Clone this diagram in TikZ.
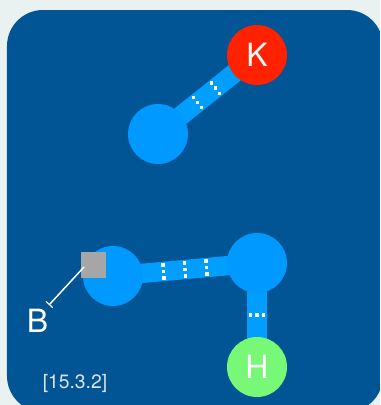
\documentclass[tikz,border=0pt]{standalone}
\usepackage{fontspec}
\setmainfont{TeX Gyre Heros}
\usetikzlibrary{calc,arrows.meta,backgrounds}
\definecolor{pagegray}{HTML}{E9F1F1}
\definecolor{panelblue}{HTML}{025594}
\definecolor{atomblue}{HTML}{0099FF}
\definecolor{bondblue}{HTML}{009EFF}
\definecolor{kred}{HTML}{FF2200}
\definecolor{hgreen}{HTML}{77F977}
\definecolor{tagray}{HTML}{A6A6A6}
\definecolor{labgray}{HTML}{DCE4E8}

\begin{document}
\begin{tikzpicture}[x=0.75pt,y=-0.75pt,
atom/.style={circle, fill=atomblue, inner sep=0pt, minimum size=45pt},
elem/.style={atom, text=white, font=\fontsize{24}{24}\selectfont},
bond/.style={draw=bondblue, line width=14.5pt},
tag/.style={rectangle, fill=tagray, inner sep=0pt, minimum width=18.75pt, minimum height=19.5pt},
hb/.style={fill=white}
]
\useasboundingbox (0,0) rectangle (380,405);

% atoms
\node[atom] (C1) at (158,134) {};
\node[elem, fill=kred] (K) at (257,55) {K};
\node[atom] (C2) at (113,276) {};
\node[atom] (C3) at (257,263) {};
\node[elem, fill=hgreen] (H) at (257,367) {H};

% panel and bonds below the atoms
\begin{pgfonlayer}{background}
\fill[pagegray] (0,0) rectangle (380,405);
\clip (0,0) rectangle (380,405);
\fill[panelblue, rounded corners=27pt] (7,10) rectangle (383,412);
\draw[bond] (C1.center) -- (K.center);
\draw[bond] (C2.center) -- (C3.center);
\draw[bond] (C3.center) -- (H.center);
\end{pgfonlayer}

% dotted marks across the bonds
\foreach \f in {0.4,0.58}
  \foreach \o in {-4.9pt,0pt,4.9pt}
    \fill[hb] ($(C1)!\f!(K)!\o!90:(K)$) +(-1.3pt,-1.3pt) rectangle +(1.3pt,1.3pt);
\foreach \f in {0.35,0.5,0.65}
  \foreach \o in {-4.9pt,0pt,4.9pt}
    \fill[hb] ($(C2)!\f!(C3)!\o!90:(C3)$) +(-1.3pt,-1.3pt) rectangle +(1.3pt,1.3pt);
\foreach \o in {-4.9pt,0pt,4.9pt}
  \fill[hb] ($(C3)!0.5!(H)!\o!90:(H)$) +(-1.3pt,-1.3pt) rectangle +(1.3pt,1.3pt);

% pin B
\node[tag] (Bsq) at (93.5,265) {};
\coordinate (Bpin) at (84,267);
\node[text=white, font=\fontsize{24}{24}\selectfont] (Blab) at (37.5,321) {B};
\coordinate (Btip) at (49,305);
\draw[white, line width=1.1pt, {Bar[width=7pt,line width=0.9pt]}-] (Btip) -- (Bpin);

\node[text=labgray, font=\fontsize{14.5}{14.5}\selectfont] (ref) at (75,383) {[15.3.2]};
\end{tikzpicture}
\end{document}
